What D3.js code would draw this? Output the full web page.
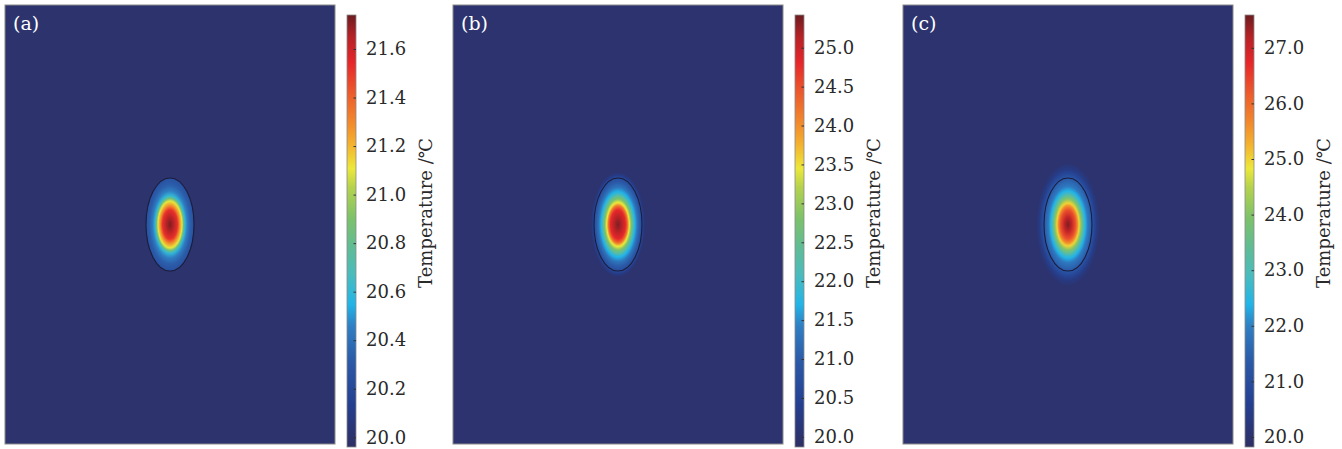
<!DOCTYPE html>
<html>
<head>
<meta charset="utf-8">
<script src="https://cdn.jsdelivr.net/npm/d3@7"></script>
<style>
  body { margin: 0; background: #fff; }
  svg text { font-family: "DejaVu Serif", "Liberation Serif", "Times New Roman", Tinos, serif; }
</style>
</head>
<body>
<svg id="fig" width="1342" height="449"></svg>
<script>
// panel labels and colour bar ranges (deg C)
const panelLabels = ["(a)", "(b)", "(c)"];
const scaleMin = [19.96, 19.87, 19.82];
const scaleMax = [21.74, 25.42, 27.59];
const ambientTemp = [20.0, 20.0, 20.0];

const ticksA = [20.0, 20.2, 20.4, 20.6, 20.8, 21.0, 21.2, 21.4, 21.6];
const ticksB = [20.0, 20.5, 21.0, 21.5, 22.0, 22.5, 23.0, 23.5, 24.0, 24.5, 25.0];
const ticksC = [20.0, 21.0, 22.0, 23.0, 24.0, 25.0, 26.0, 27.0];

// temperature along the normalised radius of the elliptic spot (1 = outline)
const radiusA = [0, 0.15, 0.31, 0.4, 0.5, 0.56, 0.62, 0.72, 0.85, 1.0];
const tempA   = [21.72, 21.65, 21.52, 21.3, 21.1, 20.85, 20.6, 20.45, 20.33, 20.25];
const radiusB = [0, 0.15, 0.31, 0.4, 0.47, 0.55, 0.62, 0.7, 0.8, 0.9, 1.0, 1.06, 1.13];
const tempB   = [25.35, 25.15, 24.8, 24.2, 23.45, 22.8, 22.3, 21.7, 21.3, 21.0, 20.7, 20.3, 20.0];
const radiusC = [0, 0.15, 0.31, 0.4, 0.46, 0.55, 0.63, 0.72, 0.82, 0.92, 1.0, 1.1, 1.2, 1.33];
const tempC   = [27.5, 27.1, 26.3, 25.6, 25.0, 24.0, 23.2, 22.4, 21.9, 21.6, 21.3, 20.8, 20.35, 20.0];

const ticks = [ticksA, ticksB, ticksC];
const radii = [radiusA, radiusB, radiusC];
const temps = [tempA, tempB, tempC];

// colour map (position 0..1 -> colour)
const cmapPos = [0, 0.10, 0.20, 0.28, 0.33, 0.40, 0.46, 0.53, 0.60, 0.645, 0.70, 0.75, 0.82, 0.89, 0.95, 1];
const cmapCol = ["#2e2f63", "#243f91", "#2b5aa8", "#2f7fc4", "#22b4e8", "#4bbcbc", "#5fbc96", "#7dc26a",
                 "#b4d24e", "#ece83a", "#f4b22e", "#f28a2c", "#ec5a2c", "#e6262a", "#b52226", "#6c1c20"];
const cmap = d3.scaleLinear().domain(cmapPos).range(cmapCol).clamp(true);

const svg = d3.select("#fig");
const defs = svg.append("defs");

const panelX = [5, 453, 903];
const panelW = 330, panelTop = 5, panelBottom = 444;
const cbOffset = 342, cbW = 9, cbTop = 15, cbBottom = 447;
const spotRx = 24, spotRy = 46.5;
const serif = "'DejaVu Serif', 'Liberation Serif', 'Times New Roman', Tinos, serif";

panelLabels.forEach((lab, i) => {
  const norm = d3.scaleLinear().domain([scaleMin[i], scaleMax[i]]).range([0, 1]);
  const color = t => cmap(norm(t));
  const g = svg.append("g").attr("transform", `translate(${panelX[i]},0)`);

  // field background
  g.append("rect")
    .attr("x", 0).attr("y", panelTop)
    .attr("width", panelW).attr("height", panelBottom - panelTop)
    .attr("fill", color(ambientTemp[i]))
    .attr("stroke", "#8a8a8a").attr("stroke-width", 1);

  // hot spot from the radial profile
  const r = radii[i], T = temps[i];
  const rMax = r[r.length - 1];
  const grad = defs.append("radialGradient").attr("id", "spot" + i);
  grad.selectAll("stop")
    .data(r)
    .join("stop")
    .attr("offset", d => d / rMax)
    .attr("stop-color", (d, k) => color(T[k]));

  const cx = panelW / 2, cy = (panelTop + panelBottom) / 2;
  g.append("ellipse")
    .attr("cx", cx).attr("cy", cy)
    .attr("rx", spotRx * rMax).attr("ry", spotRy * rMax)
    .attr("fill", `url(#spot${i})`);

  g.append("ellipse")
    .attr("cx", cx).attr("cy", cy)
    .attr("rx", spotRx).attr("ry", spotRy)
    .attr("fill", "none")
    .attr("stroke", "#1c1d3c").attr("stroke-width", 1.1);

  g.append("text")
    .attr("x", 8).attr("y", 30)
    .attr("fill", "#fff")
    .style("font-family", serif)
    .style("font-size", "19px")
    .text(lab);

  // colour bar
  const cbg = defs.append("linearGradient").attr("id", "cb" + i)
    .attr("x1", 0).attr("y1", 1).attr("x2", 0).attr("y2", 0);
  cbg.selectAll("stop")
    .data(cmapPos)
    .join("stop")
    .attr("offset", d => d)
    .attr("stop-color", (d, k) => cmapCol[k]);

  g.append("rect")
    .attr("x", cbOffset).attr("y", cbTop)
    .attr("width", cbW).attr("height", cbBottom - cbTop)
    .attr("fill", `url(#cb${i})`)
    .attr("stroke", "#8a8a8a").attr("stroke-width", 0.8);

  const y = d3.scaleLinear().domain([scaleMin[i], scaleMax[i]]).range([cbBottom, cbTop]);
  const ax = g.append("g")
    .attr("transform", `translate(${cbOffset + cbW},0)`)
    .call(d3.axisRight(y).tickValues(ticks[i]).tickFormat(d3.format(".1f")).tickSize(-2.5).tickPadding(10));
  ax.select(".domain").remove();
  ax.selectAll("line").attr("stroke", "#333").attr("stroke-width", 1);
  ax.selectAll("text")
    .attr("fill", "#2a2a2a")
    .style("font-size", "18px")
    .style("font-family", serif);

  g.append("text")
    .attr("transform", `translate(${cbOffset + 78},${213}) rotate(-90)`)
    .attr("text-anchor", "middle")
    .attr("dominant-baseline", "central")
    .attr("fill", "#2a2a2a")
    .style("font-family", serif)
    .style("font-size", "18px")
    .text("Temperature /℃");
});
</script>
</body>
</html>
